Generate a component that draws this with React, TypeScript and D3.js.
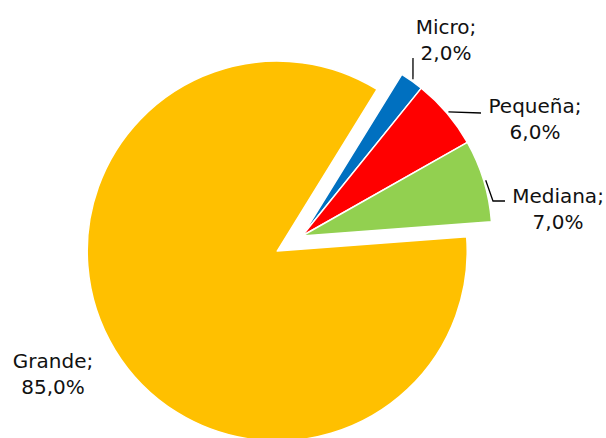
import React from "react";
import * as d3 from "d3";

const categories = ["Micro", "Pequeña", "Mediana", "Grande"];
const values = [2.0, 6.0, 7.0, 85.0];
const colors = ["#0070C0", "#FF0000", "#92D050", "#FFC000"];
const explode = [0, 0, 0, 29];

// label layout (text centre x, first-line baseline y, leader path points after arc point)
const labelLayout = [
  { x: 446, y: 34, leader: [[413, 58]] },
  { x: 535, y: 113, leader: [[481, 113]] },
  { x: 558, y: 203, leader: [[493, 201], [505, 201]] },
  { x: 53, y: 368, leader: [] as number[][] },
];

const W = 606;
const H = 438;
const cx = 302;
const cy = 236;
const R = 190;

export default function App() {
  const pie = d3
    .pie<number>()
    .sort(null)
    .value((d) => d)
    .startAngle((31.7 * Math.PI) / 180)
    .endAngle((31.7 * Math.PI) / 180 + 2 * Math.PI);
  const arcs = pie(values);
  const arc = d3.arc<d3.PieArcDatum<number>>().innerRadius(0).outerRadius(R);
  const fmt = (v: number) => v.toFixed(1).replace(".", ",") + "%";

  return (
    <svg
      width={W}
      height={H}
      style={{ position: "absolute", left: 0, top: 0, background: "#fff" }}
      fontFamily="DejaVu Sans, Verdana, sans-serif"
    >
      <g transform={`translate(${cx},${cy})`}>
        {arcs.map((a, i) => {
          const mid = (a.startAngle + a.endAngle) / 2;
          const dx = Math.sin(mid) * explode[i];
          const dy = -Math.cos(mid) * explode[i];
          return (
            <path
              key={i}
              d={arc(a) as string}
              transform={`translate(${dx},${dy})`}
              fill={colors[i]}
              stroke="#fff"
              strokeWidth={1.5}
              strokeLinejoin="round"
            />
          );
        })}
      </g>
      {arcs.map((a, i) => {
        const lay = labelLayout[i];
        const mid = (a.startAngle + a.endAngle) / 2;
        const px = cx + Math.sin(mid) * (R + 2);
        const py = cy - Math.cos(mid) * (R + 2);
        const pts = [[px, py], ...lay.leader];
        return (
          <g key={i}>
            {lay.leader.length > 0 && (
              <path
                d={d3.line()(pts as [number, number][]) as string}
                fill="none"
                stroke="#000"
                strokeWidth={1.3}
              />
            )}
            <text x={lay.x} y={lay.y} fontSize={20} textAnchor="middle" fill="#111">
              <tspan x={lay.x}>{categories[i]};</tspan>
              <tspan x={lay.x} dy={26}>
                {fmt(values[i])}
              </tspan>
            </text>
          </g>
        );
      })}
    </svg>
  );
}
